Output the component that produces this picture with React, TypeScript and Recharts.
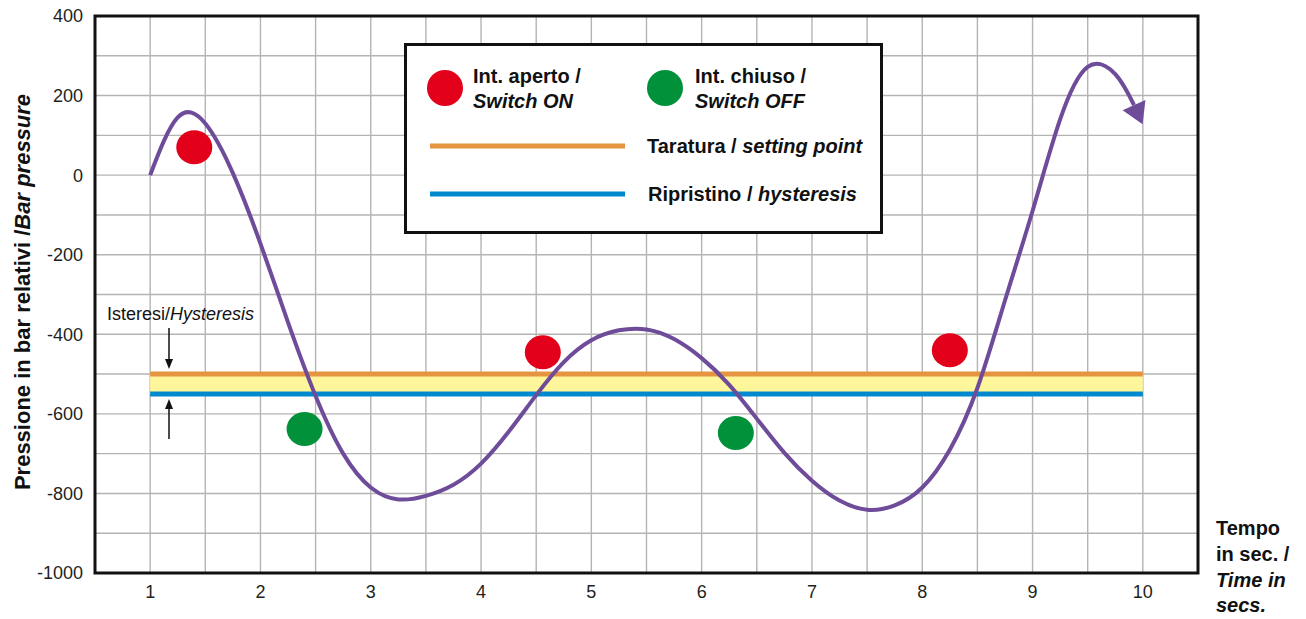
import React from 'react';
import {
  ComposedChart,
  Line,
  Scatter,
  XAxis,
  YAxis,
  CartesianGrid,
  ReferenceArea,
  ReferenceLine,
} from 'recharts';

// pressure curve (time in s, pressure in bar), every quarter second
const curveTime = [
  1.0, 1.25, 1.5, 1.75, 2.0, 2.25, 2.5, 2.75, 3.0, 3.25, 3.5, 3.75, 4.0, 4.25, 4.5, 4.75, 5.0,
  5.25, 5.5, 5.75, 6.0, 6.25, 6.5, 6.75, 7.0, 7.25, 7.5, 7.75, 8.0, 8.25, 8.5, 8.75, 9.0, 9.25,
  9.5, 9.75, 9.92,
];
const curvePressure = [
  0, 145, 130, 5, -172, -370, -555, -700, -785, -815, -806, -778, -725, -645, -553, -470, -415,
  -390, -388, -412, -460, -527, -612, -698, -768, -818, -841, -830, -785, -690, -535, -315, -90,
  140, 272, 254, 176,
];

const switchOnTime = [1.4, 4.56, 8.25];
const switchOnPressure = [70, -445, -440];
const switchOffTime = [2.4, 6.31];
const switchOffPressure = [-638, -648];

const settingPoint = -500;
const hysteresisPoint = -550;
const bandStart = 1;
const bandEnd = 10;

const xTicks = [1, 2, 3, 4, 5, 6, 7, 8, 9, 10];
const yTicks = [-1000, -800, -600, -400, -200, 0, 200, 400];
const gridX = [1, 1.5, 2, 2.5, 3, 3.5, 4, 4.5, 5, 5.5, 6, 6.5, 7, 7.5, 8, 8.5, 9, 9.5, 10];
const gridY = [-900, -800, -700, -600, -500, -400, -300, -200, -100, 0, 100, 200, 300];

const PURPLE = '#6e4c9a';
const RED = '#e2001a';
const GREEN = '#00913a';
const ORANGE = '#e59440';
const BLUE = '#0089cf';
const YELLOW = '#fff59a';
const FONT = "'Liberation Sans', Arial, sans-serif";

const curveData = curveTime.map((t, i) => ({ t, p: curvePressure[i] }));
const onData = switchOnTime.map((t, i) => ({ t, p: switchOnPressure[i] }));
const offData = switchOffTime.map((t, i) => ({ t, p: switchOffPressure[i] }));

// arrow head drawn forward from the last point of the curve
const ArrowDot = (props: any) => {
  const { cx, cy, index } = props;
  if (index !== curveData.length - 1) return <g key={index} />;
  const a = (66 * Math.PI) / 180;
  const len = 21;
  const half = 12.5;
  const tx = cx + len * Math.cos(a);
  const ty = cy + len * Math.sin(a);
  const px = -Math.sin(a) * half;
  const py = Math.cos(a) * half;
  return (
    <polygon
      key={index}
      points={`${tx},${ty} ${cx + px},${cy + py} ${cx - px},${cy - py}`}
      fill={PURPLE}
    />
  );
};

const dotShape = (color: string) => (props: any) => (
  <ellipse cx={props.cx} cy={props.cy} rx={18} ry={17} fill={color} />
);

export default function App() {
  return (
    <div style={{ position: 'absolute', left: 0, top: 0, width: 1306, height: 619, background: '#fff' }}>
      <ComposedChart
        width={1306}
        height={619}
        data={curveData}
        margin={{ top: 16, right: 108, bottom: 0, left: 0 }}
      >
        <ReferenceArea
          x1={bandStart}
          x2={bandEnd}
          y1={hysteresisPoint}
          y2={settingPoint}
          fill={YELLOW}
          fillOpacity={1}
          stroke="none"
        />
        <CartesianGrid
          stroke="#b4b4b4"
          strokeWidth={1.4}
          verticalValues={gridX}
          horizontalValues={gridY}
        />
        <XAxis
          type="number"
          dataKey="t"
          domain={[0.5, 10.5]}
          ticks={xTicks}
          height={46}
          axisLine={false}
          tickLine={false}
          tickSize={6}
          tickMargin={6}
          tick={{ fill: '#231f20', fontSize: 18, fontFamily: FONT }}
        />
        <YAxis
          type="number"
          domain={[-1000, 400]}
          ticks={yTicks}
          width={95}
          axisLine={false}
          tickLine={false}
          tickSize={6}
          tickMargin={6}
          tick={{ fill: '#231f20', fontSize: 18, fontFamily: FONT }}
        />
        <ReferenceLine
          segment={[{ x: bandStart, y: settingPoint }, { x: bandEnd, y: settingPoint }]}
          stroke={ORANGE}
          strokeWidth={5}
        />
        <ReferenceLine
          segment={[{ x: bandStart, y: hysteresisPoint }, { x: bandEnd, y: hysteresisPoint }]}
          stroke={BLUE}
          strokeWidth={5}
        />
        <ReferenceArea
          x1={0.5}
          x2={10.5}
          y1={-1000}
          y2={400}
          fill="none"
          stroke="#111"
          strokeWidth={3}
          ifOverflow="visible"
        />
        <Line
          type="natural"
          dataKey="p"
          stroke={PURPLE}
          strokeWidth={4}
          dot={ArrowDot}
          activeDot={false}
          isAnimationActive={false}
        />
        <Scatter data={onData} dataKey="p" shape={dotShape(RED)} isAnimationActive={false} />
        <Scatter data={offData} dataKey="p" shape={dotShape(GREEN)} isAnimationActive={false} />
      </ComposedChart>

      <svg
        width={1306}
        height={619}
        style={{ position: 'absolute', left: 0, top: 0, pointerEvents: 'none' }}
        fontFamily={FONT}
      >
        {/* legend */}
        <rect x={405.5} y={44.5} width={476} height={188} fill="#fff" stroke="#111" strokeWidth={3} />
        <circle cx={445} cy={88} r={18} fill={RED} />
        <text x={473} y={83} fontSize={20} fontWeight="bold" fill="#111">Int. aperto /</text>
        <text x={473} y={108} fontSize={20} fontWeight="bold" fontStyle="italic" fill="#111">Switch ON</text>
        <circle cx={665} cy={88} r={18} fill={GREEN} />
        <text x={695} y={83} fontSize={20} fontWeight="bold" fill="#111">Int. chiuso /</text>
        <text x={695} y={108} fontSize={20} fontWeight="bold" fontStyle="italic" fill="#111">Switch OFF</text>
        <line x1={430} x2={625} y1={146} y2={146} stroke={ORANGE} strokeWidth={5} />
        <text x={647} y={153} fontSize={20} fontWeight="bold" fill="#111">
          Taratura / <tspan fontStyle="italic">setting point</tspan>
        </text>
        <line x1={430} x2={625} y1={194} y2={194} stroke={BLUE} strokeWidth={5} />
        <text x={648} y={201} fontSize={20} fontWeight="bold" fill="#111">
          Ripristino / <tspan fontStyle="italic">hysteresis</tspan>
        </text>

        {/* axis titles */}
        <text
          x={30}
          y={292}
          transform="rotate(-90 30 292)"
          textAnchor="middle"
          fontSize={22}
          fontWeight="bold"
          fill="#111"
        >
          Pressione in bar relativi /<tspan fontStyle="italic">Bar pressure</tspan>
        </text>
        <text x={1216} fontSize={20} fontWeight="bold" fill="#111">
          <tspan x={1216} y={535}>Tempo</tspan>
          <tspan x={1216} y={561}>in sec. /</tspan>
          <tspan x={1216} y={587} fontStyle="italic">Time in</tspan>
          <tspan x={1216} y={612} fontStyle="italic">secs.</tspan>
        </text>

        {/* hysteresis annotation */}
        <text x={107} y={320} fontSize={18} fill="#111">
          Isteresi/<tspan fontStyle="italic">Hysteresis</tspan>
        </text>
        <line x1={169} x2={169} y1={328} y2={362} stroke="#111" strokeWidth={1.5} />
        <polygon points="169,369 165,359 173,359" fill="#111" />
        <line x1={169} x2={169} y1={406} y2={439} stroke="#111" strokeWidth={1.5} />
        <polygon points="169,399 165,409 173,409" fill="#111" />
      </svg>
    </div>
  );
}
